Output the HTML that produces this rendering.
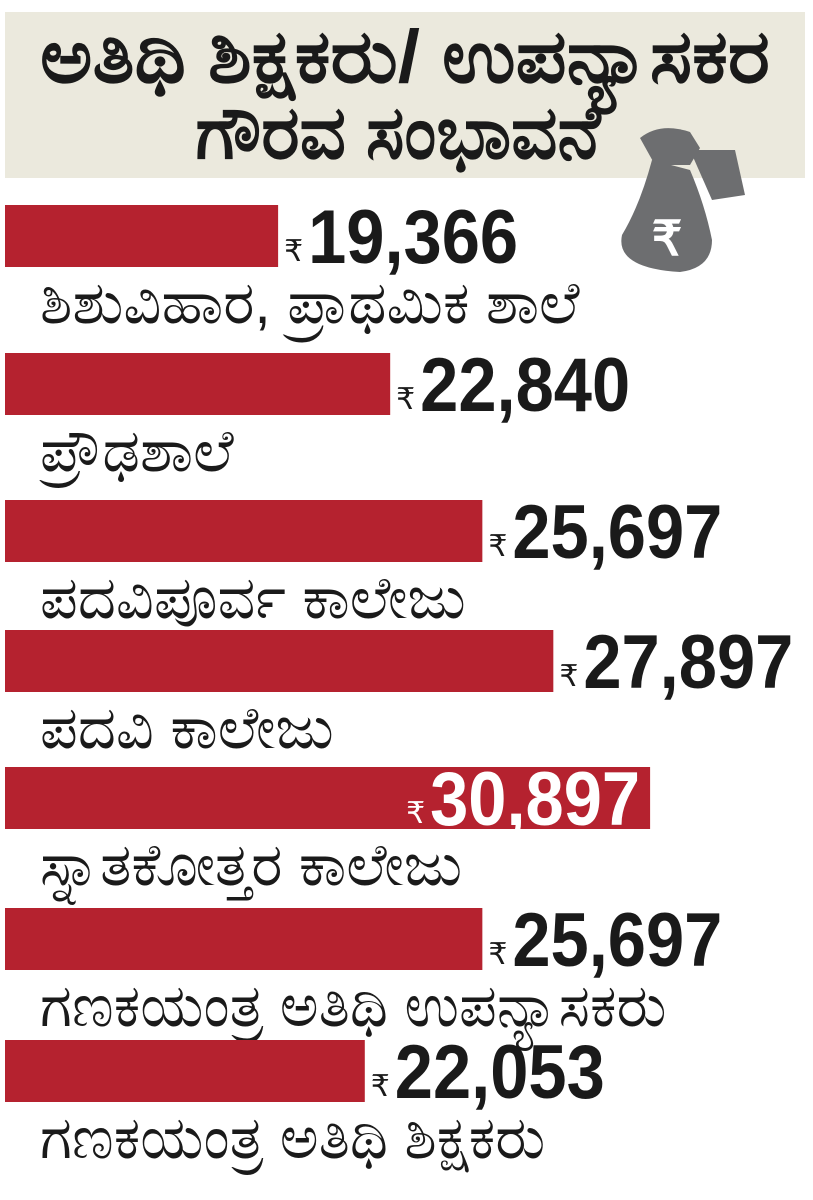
<!DOCTYPE html>
<html><head><meta charset="utf-8"><style>
html,body{margin:0;padding:0;background:#fff;}
svg{display:block}
</style></head><body>
<svg width="813" height="1200" viewBox="0 0 813 1200">
<rect x="5" y="12" width="800" height="166" fill="#ebe9dd"/>
<text x="405" y="82" text-anchor="middle" font-family="'Liberation Sans', sans-serif" font-size="74" font-weight="bold" fill="#1a1a1a" textLength="730" lengthAdjust="spacingAndGlyphs">ಅತಿಥಿ ಶಿಕ್ಷಕರು/ ಉಪನ್ಯಾಸಕರ</text>
<text x="398" y="158" text-anchor="middle" font-family="'Liberation Sans', sans-serif" font-size="74" font-weight="bold" fill="#1a1a1a" textLength="405" lengthAdjust="spacingAndGlyphs">ಗೌರವ ಸಂಭಾವನೆ</text>
<g fill="#6d6e70">
<path d="M652 160 Q640 205 622 235 Q615 268 680 272 Q712 268 712 240 Q705 205 690 170 Z"/>
<path d="M640 138 Q660 122 690 132 L700 148 L690 165 L655 165 Z"/>
<path d="M690 150 L735 150 L745 195 L712 200 Z"/>
<text x="667" y="255" text-anchor="middle" font-family="'Liberation Sans', sans-serif" font-size="48" font-weight="bold" fill="#fff">₹</text>
</g>
<g id="bars"></g>
</svg>
<script>
const categories=["ಶಿಶುವಿಹಾರ, ಪ್ರಾಥಮಿಕ ಶಾಲೆ","ಪ್ರೌಢಶಾಲೆ","ಪದವಿಪೂರ್ವ ಕಾಲೇಜು","ಪದವಿ ಕಾಲೇಜು","ಸ್ನಾತಕೋತ್ತರ ಕಾಲೇಜು","ಗಣಕಯಂತ್ರ ಅತಿಥಿ ಉಪನ್ಯಾಸಕರು","ಗಣಕಯಂತ್ರ ಅತಿಥಿ ಶಿಕ್ಷಕರು"];
const values=[19366,22840,25697,27897,30897,25697,22053];
const valueLabels=["19,366","22,840","25,697","27,897","30,897","25,697","22,053"];
const barTops=[205,353,500,630,767,908,1040];
const NS="http://www.w3.org/2000/svg";
const g=document.getElementById('bars');
function xScale(v){return 5+(v-10900)*0.03226;}
const maxV=Math.max(...values);
values.forEach((v,i)=>{
  const y=barTops[i], h=62, right=xScale(v);
  const r=document.createElementNS(NS,'rect');
  r.setAttribute('x',5);r.setAttribute('y',y);r.setAttribute('width',right-5);r.setAttribute('height',h);r.setAttribute('fill','#b5222f');
  
  
  g.appendChild(r);
  const inside=v===maxV;
  const numW=210;
  const numX=inside?right-10-numW:right+30;
  const col=inside?'#fff':'#1a1a1a';
  const rs=document.createElementNS(NS,'text');
  rs.setAttribute('x',numX-24);rs.setAttribute('y',y+h-6);rs.setAttribute('font-size','30');rs.setAttribute('font-family',"'Liberation Sans', sans-serif");rs.setAttribute('fill',col);
  rs.textContent='₹';
  
  
  g.appendChild(rs);
  const t=document.createElementNS(NS,'text');
  t.setAttribute('x',numX);t.setAttribute('y',y+h-4);t.setAttribute('font-size','76');t.setAttribute('font-weight','bold');
  t.setAttribute('font-family',"'Liberation Sans Narrow','Liberation Sans', sans-serif");t.setAttribute('fill',col);
  t.setAttribute('textLength',numW);t.setAttribute('lengthAdjust','spacingAndGlyphs');
  t.textContent=valueLabels[i];
  
  
  g.appendChild(t);
  const c=document.createElementNS(NS,'text');
  c.setAttribute('x',40);c.setAttribute('y',y+h+56);c.setAttribute('font-size','59');
  c.setAttribute('font-family',"'Liberation Sans', sans-serif");c.setAttribute('fill','#1a1a1a');
  c.textContent=categories[i];
  
  
  g.appendChild(c);
});
</script>
</body></html>
